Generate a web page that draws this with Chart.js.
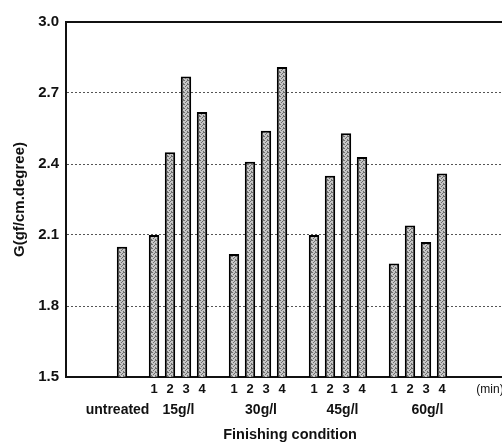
<!DOCTYPE html>
<html><head><meta charset="utf-8">
<script src="https://cdn.jsdelivr.net/npm/chart.js@4/dist/chart.umd.min.js"></script>
<style>html,body{margin:0;padding:0;overflow:hidden;background:#fff}#wrap{width:502px;height:444px;overflow:hidden;position:relative}</style>
</head><body><div id="wrap"><canvas id="c" width="520" height="444" style="width:520px;height:444px;display:block"></canvas></div>
<script>
const groupNames = ['untreated', '15g/l', '30g/l', '45g/l', '60g/l'];
const timeLabels = ['1', '2', '3', '4'];
const unitLabel = '(min)';
const untreatedValues = [2.05];
const values15 = [2.10, 2.45, 2.77, 2.62];
const values30 = [2.02, 2.41, 2.54, 2.81];
const values45 = [2.10, 2.35, 2.53, 2.43];
const values60 = [1.98, 2.14, 2.07, 2.36];
const yTicks = [1.5, 1.8, 2.1, 2.4, 2.7, 3.0];
const yTitle = 'G(gf/cm.degree)';
const xTitle = 'Finishing condition';

// ---- slot layout built from the arrays above ----
const slotLabels = [], slotValues = [], groupCenters = [];
const labelShift = [-0.28, 0.03, 0.19, 0.28, 0.59];
function gap(n) { for (let i = 0; i < n; i++) { slotLabels.push(''); slotValues.push(null); } }
gap(3);
groupCenters.push(slotLabels.length + labelShift[0]);
slotLabels.push(''); slotValues.push(untreatedValues[0]);
[values15, values30, values45, values60].forEach((vals, g) => {
  gap(1);
  const start = slotLabels.length;
  vals.forEach((v, i) => { slotLabels.push(timeLabels[i]); slotValues.push(v); });
  groupCenters.push(start + 1.5 + labelShift[g + 1]);
});
gap(2);
const minIndex = slotLabels.length;
slotLabels.push(unitLabel); slotValues.push(null);
gap(1);

// stipple fill
const pc = document.createElement('canvas'); pc.width = 4; pc.height = 4;
const px = pc.getContext('2d');
px.fillStyle = '#c6c6c6'; px.fillRect(0, 0, 4, 4);
px.fillStyle = '#6e6e6e';
[[0,0],[2,1],[1,2],[3,3],[3,0]].forEach(p => px.fillRect(p[0], p[1], 1, 1));
const fill = px.createPattern(pc, 'repeat');

const FONT = "'Liberation Sans', Arial, sans-serif";
const lastIndex = slotLabels.length - 1;

new Chart(document.getElementById('c'), {
  type: 'bar',
  data: {
    labels: slotLabels,
    datasets: [{
      data: slotValues,
      xAxisID: 'x', yAxisID: 'y',
      backgroundColor: fill,
      borderColor: '#000',
      borderWidth: 2,
      barPercentage: 0.65,
      categoryPercentage: 1
    }]
  },
  options: {
    responsive: false,
    animation: false,
    devicePixelRatio: 1,
    layout: { padding: { top: 22, right: 6, left: 0, bottom: 0 } },
    plugins: { legend: { display: false }, tooltip: { enabled: false } },
    scales: {
      y: {
        min: yTicks[0], max: yTicks[yTicks.length - 1],
        afterBuildTicks: s => { s.ticks = yTicks.map(v => ({ value: v })); },
        afterFit: s => { s.width = 66; },
        ticks: {
          padding: 7, color: '#111',
          font: { family: FONT, size: 15, weight: 'bold' },
          callback: v => Number(v).toFixed(1)
        },
        grid: {
          drawTicks: false,
          color: c => (c.tick && Math.abs(c.tick.value - 3) < 1e-6) ? 'rgba(0,0,0,0)' : '#555',
          lineWidth: 1
        },
        border: { display: true, color: '#111', width: 2, dash: [2, 2] },
        title: {
          display: true, text: yTitle, color: '#111',
          font: { family: FONT, size: 15, weight: 'bold' },
          padding: { top: 11, bottom: 0 }
        }
      },
      x: {
        type: 'category',
        position: 'bottom',
        afterFit: s => { s.height = 24; },
        grid: { display: false, drawTicks: false },
        border: { display: true, color: '#111', width: 2 },
        ticks: {
          autoSkip: false, maxRotation: 0, minRotation: 0, padding: 5, color: '#111',
          font: c => (c.index === minIndex)
            ? { family: FONT, size: 12, weight: 'normal' }
            : { family: FONT, size: 13, weight: 'bold' }
        }
      },
      x2: {
        type: 'linear',
        position: 'bottom',
        offset: false,
        min: -0.5, max: lastIndex + 0.5,
        afterBuildTicks: s => { s.ticks = groupCenters.map(v => ({ value: v })); },
        afterFit: s => { s.height = 43; },
        grid: { display: false, drawTicks: false, offset: false },
        border: { display: false },
        ticks: {
          autoSkip: false, maxRotation: 0, minRotation: 0, padding: 1, color: '#111',
          font: { family: FONT, size: 14, weight: 'bold' },
          callback: (v, i) => groupNames[i]
        },
        title: {
          display: true, text: xTitle, color: '#111',
          font: { family: FONT, size: 14.5, weight: 'bold' },
          padding: { top: 0, bottom: 0 }
        }
      },
      xTop: {
        type: 'category',
        position: 'top',
        afterFit: s => { s.height = 0; },
        grid: { display: false, drawTicks: false },
        border: { display: true, color: '#111', width: 2 },
        ticks: { display: false }
      }
    }
  }
});
</script>
</body></html>
